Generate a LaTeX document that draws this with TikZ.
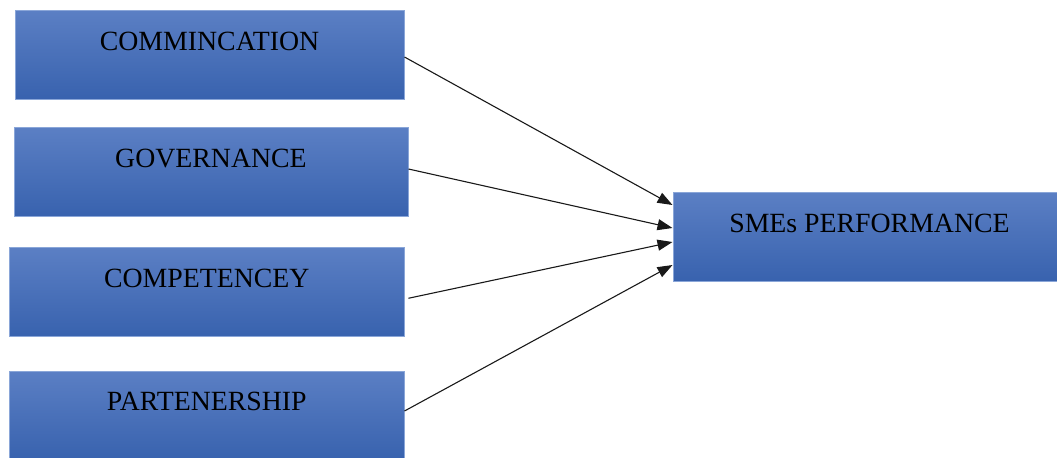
\documentclass[tikz,border=0pt]{standalone}
\usepackage{fontspec}
\setmainfont{Liberation Serif}
\usetikzlibrary{arrows.meta}

\definecolor{boxtop}{HTML}{5B7FC4}
\definecolor{boxbottom}{HTML}{3862AE}
\definecolor{boxline}{HTML}{8AA6D8}

\begin{document}
\begin{tikzpicture}[x=0.5pt, y=-0.5pt,
   every node/.style={draw=boxline, line width=0.5pt, top color=boxtop, bottom color=boxbottom,
      inner sep=0pt, minimum height=44.5pt, text height=19.75pt, text depth=24.75pt,
      font=\fontsize{13.9pt}{16pt}\selectfont},
   link/.style={-{Triangle[length=7.5pt,width=5.5pt]}, line width=0.55pt, black!90}]

\path[use as bounding box, clip] (0,0) rectangle (1057,457);

\node[minimum width=194.5pt] (comm) at (209.5,55) {COMMINCATION};
\node[minimum width=197pt] (gov) at (211,172) {GOVERNANCE};
\node[minimum width=197.25pt] (comp) at (206.75,292.25) {COMPETENCEY};
\node[minimum width=197.25pt] (part) at (206.75,415.5) {PARTENERSHIP};

\node[minimum width=196.5pt] (perf) at (869.5,237) {SMEs PERFORMANCE};

\draw[link] ([yshift=-1pt]comm.east) -- ([yshift=16pt]perf.west);
\draw[link] ([yshift=1.5pt]gov.east) -- ([yshift=4.5pt]perf.west);
\draw[link] ([xshift=2pt, yshift=-3pt]comp.east) -- ([yshift=-2.5pt]perf.west);
\draw[link] ([yshift=2.25pt]part.east) -- ([yshift=-14pt]perf.west);

\end{tikzpicture}
\end{document}
